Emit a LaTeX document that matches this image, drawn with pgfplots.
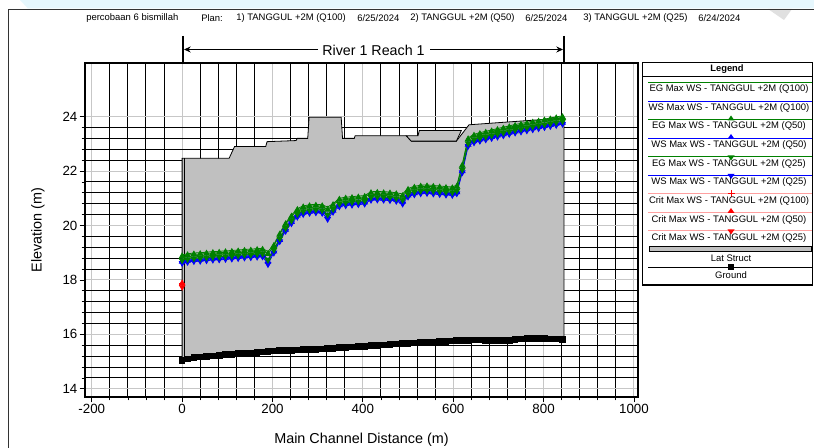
\documentclass[border=0pt]{standalone}
\usepackage{pgfplots}
\pgfplotsset{compat=1.18}
\usepackage{pgfplotstable}
\usepackage{fontspec}
\setmainfont{Liberation Sans}
\usetikzlibrary{arrows.meta}
\definecolor{egc}{RGB}{0,128,0}
\definecolor{wsc}{RGB}{0,0,255}
\definecolor{latc}{RGB}{192,192,192}
\definecolor{critl}{RGB}{255,160,160}

\pgfplotstableread{
x ws100 ws50 ws25 eg100 eg50 gr
0 18.72 18.67 18.62 18.92 18.87 15.05
12 18.76 18.71 18.66 18.96 18.91 15.10
26 18.79 18.74 18.69 18.99 18.94 15.14
40 18.80 18.75 18.70 19.00 18.95 15.17
54 18.82 18.77 18.72 19.02 18.97 15.19
68 18.84 18.79 18.74 19.04 18.99 15.21
82 18.85 18.80 18.75 19.05 19.00 15.23
96 18.87 18.82 18.77 19.07 19.02 15.25
110 18.88 18.83 18.78 19.08 19.03 15.27
124 18.90 18.85 18.80 19.10 19.05 15.29
138 18.92 18.87 18.82 19.12 19.07 15.31
152 18.93 18.88 18.83 19.13 19.08 15.32
166 18.95 18.90 18.85 19.15 19.10 15.33
178 18.96 18.91 18.86 19.16 19.11 15.35
190 18.74 18.68 18.58 19.04 18.96 15.38
203 19.10 19.05 19.00 19.30 19.25 15.39
216 19.52 19.47 19.42 19.72 19.67 15.40
229 19.90 19.85 19.80 20.10 20.05 15.41
242 20.18 20.13 20.08 20.38 20.33 15.42
255 20.42 20.37 20.32 20.62 20.57 15.43
268 20.52 20.47 20.42 20.72 20.67 15.44
282 20.56 20.51 20.46 20.76 20.71 15.45
296 20.58 20.53 20.48 20.78 20.73 15.45
310 20.56 20.51 20.46 20.76 20.71 15.46
322 20.40 20.34 20.24 20.68 20.58 15.47
334 20.60 20.55 20.50 20.80 20.75 15.49
348 20.80 20.75 20.70 21.00 20.95 15.52
362 20.84 20.79 20.74 21.04 20.99 15.53
376 20.86 20.81 20.76 21.06 21.01 15.54
390 20.88 20.83 20.78 21.08 21.03 15.55
404 20.90 20.85 20.80 21.10 21.05 15.56
418 21.04 20.99 20.94 21.24 21.19 15.58
432 21.05 21.00 20.95 21.25 21.20 15.59
446 21.04 20.99 20.94 21.24 21.19 15.61
460 21.03 20.98 20.93 21.23 21.18 15.63
474 21.00 20.95 20.90 21.20 21.15 15.65
488 20.94 20.88 20.80 21.16 21.08 15.66
500 21.16 21.11 21.06 21.36 21.31 15.67
514 21.24 21.19 21.14 21.44 21.39 15.68
528 21.28 21.23 21.18 21.48 21.43 15.69
542 21.29 21.24 21.19 21.49 21.44 15.70
556 21.27 21.22 21.17 21.47 21.42 15.72
570 21.25 21.20 21.15 21.45 21.40 15.73
584 21.23 21.18 21.13 21.43 21.38 15.75
598 21.22 21.17 21.12 21.42 21.37 15.76
608 21.28 21.23 21.18 21.48 21.43 15.77
620 22.05 22.00 21.95 22.25 22.20 15.77
633 23.02 22.97 22.92 23.22 23.17 15.78
646 23.15 23.10 23.05 23.35 23.30 15.79
659 23.21 23.16 23.11 23.41 23.36 15.79
672 23.26 23.21 23.16 23.46 23.41 15.78
685 23.31 23.26 23.21 23.51 23.46 15.77
698 23.36 23.31 23.26 23.56 23.51 15.77
711 23.41 23.36 23.31 23.61 23.56 15.77
724 23.46 23.41 23.36 23.66 23.61 15.78
737 23.51 23.46 23.41 23.71 23.66 15.80
750 23.55 23.50 23.45 23.75 23.70 15.83
763 23.59 23.54 23.49 23.79 23.74 15.85
776 23.63 23.58 23.53 23.83 23.78 15.85
789 23.67 23.62 23.57 23.87 23.82 15.84
802 23.71 23.66 23.61 23.91 23.86 15.84
815 23.75 23.70 23.65 23.95 23.90 15.83
828 23.79 23.74 23.69 23.99 23.94 15.83
842 23.83 23.78 23.73 24.03 23.98 15.82
}\prof

\begin{document}
\begin{tikzpicture}
\useasboundingbox (0,0) rectangle (610.5pt,336pt);
\begin{scope}[x=0.75pt,y=-0.75pt,shift={(0pt,336pt)}]
  \fill[white] (0,0) rectangle (814,448);
  \fill[cyan!10] (20,0) -- (814,0) -- (814,8.5) -- (28,8.5) -- cycle;
  \fill[black!12] (768,9) -- (792,9) -- (784,20) -- cycle;
  \draw[line width=0.6pt, black!80] (8,448) -- (8,9) -- (814,9);
\end{scope}

\begin{axis}[
  at={(63.75pt,38.25pt)}, anchor=south west,
  scale only axis, width=414.75pt, height=250.5pt,
  xmin=-215, xmax=1009, ymin=13.7, ymax=25.97,
  xtick={-200,0,200,400,600,800,1000},
  xticklabels={-200,0,200,400,600,800,1000},
  ytick={14,16,18,20,22,24},
  yticklabels={14,16,18,20,22,24},
  minor x tick num=4, minor y tick num=4,
  grid=both,
  major grid style={draw=black!22, line width=0.7pt},
  minor grid style={draw=black, line width=0.75pt},
  tick align=outside, tick pos=left,
  major tick length=4pt, minor tick length=2.5pt,
  every tick/.style={black, line width=0.6pt},
  axis line style={line width=1.4pt},
  ticklabel style={font=\fontsize{10}{12}\selectfont, inner sep=1.5pt},
  xlabel={Main Channel Distance (m)},
  ylabel={Elevation (m)},
  label style={font=\fontsize{10.8}{13}\selectfont},
  xlabel style={at={(axis description cs:0.50,-0.128)}, anchor=center},
  ylabel style={at={(axis description cs:-0.085,0.5)}, anchor=center},
  clip=true,
]
% Lateral structure
\addplot[draw=black, fill=latc, line width=0.6pt] coordinates {
 (0,15.05) (0,22.47) (104,22.47) (116,22.9) (185,22.9) (188,23.08) (252,23.12)
 (255,23.2) (278,23.2) (281,23.98) (352,23.98) (355,23.2) (381,23.2) (383,23.3)
 (496,23.3) (507,23.1) (607,23.1) (635,23.7) (845,23.95) (845,15.82)
 (800,15.84) (754,15.84) (718,15.77) (680,15.77) (614,15.77) (570,15.73)
 (496,15.66) (451,15.62) (407,15.56) (348,15.52) (289,15.45) (244,15.42)
 (185,15.38) (133,15.3) (59,15.2) (6,15.08)} -- cycle;
\addplot[draw=black, fill=latc, line width=0.6pt] coordinates {
 (496,23.3) (522,23.3) (525,23.49) (618,23.49) (607,23.1) (507,23.1)} -- cycle;
\addplot[black, line width=0.6pt] coordinates {(6,15.1) (6,22.47)};
% Ground
\addplot[black, line width=0.8pt, mark=square*, mark size=2.1pt] table[x=x,y=gr]{\prof};
% WS
\addplot[wsc, line width=0.6pt] table[x=x,y=ws100]{\prof};
\addplot[wsc, line width=0.6pt, mark=triangle*, mark size=2.4pt, mark options={fill=wsc}] table[x=x,y=ws50]{\prof};
\addplot[wsc, line width=0.6pt, mark=triangle*, mark size=2.4pt, mark options={fill=wsc, rotate=180}] table[x=x,y=ws25]{\prof};
% EG
\addplot[egc, line width=0.6pt] table[x=x,y=eg100]{\prof};
\addplot[egc, line width=0.6pt, mark=triangle*, mark size=2.4pt, mark options={fill=egc}] table[x=x,y=eg50]{\prof};
\addplot[egc, line width=0.6pt, mark=triangle*, mark size=2.4pt, mark options={fill=egc, rotate=180}] table[x=x,y=ws100]{\prof};
% Crit
\addplot[red, only marks, mark=+, mark size=2.5pt] coordinates {(0,17.86)};
\addplot[red, only marks, mark=triangle*, mark size=2.4pt] coordinates {(0,17.88)};
\addplot[red, only marks, mark=triangle*, mark size=2.4pt, mark options={rotate=180}] coordinates {(0,17.74)};
\end{axis}

\begin{scope}[x=0.75pt,y=-0.75pt,shift={(0pt,336pt)}]
  % header
  \begin{scope}[every node/.style={anchor=west, inner sep=0pt, font=\fontsize{7.1}{8}\selectfont}]
    \node at (86,18) {percobaan 6 bismillah};
    \node at (201,18) {Plan:};
    \node at (236,18) {1) TANGGUL +2M (Q100)};
    \node at (357,18) {6/25/2024};
    \node at (410,18) {2) TANGGUL +2M (Q50)};
    \node at (525,18) {6/25/2024};
    \node at (583,18) {3) TANGGUL +2M (Q25)};
    \node at (698,18) {6/24/2024};
  \end{scope}
  % reach marker
  \draw[line width=0.8pt] (183,36) -- (183,63);
  \draw[line width=0.8pt] (564,36) -- (564,63);
  \draw[line width=0.8pt, -{Stealth[length=5pt,width=4.5pt]}] (318,49.5) -- (184,49.5);
  \draw[line width=0.8pt, -{Stealth[length=5pt,width=4.5pt]}] (430,49.5) -- (563,49.5);
  \node[font=\fontsize{10.7}{12}\selectfont] at (373.5,50) {River 1 Reach 1};
  % legend
  \draw[line width=1.3pt] (642.5,62.5) rectangle (812.5,285);
  \node[font=\fontsize{7}{8}\selectfont\bfseries] at (727,69.5) {Legend};
  \draw[line width=0.6pt] (642.5,76.5) -- (812.5,76.5);
  \begin{scope}[every node/.style={font=\fontsize{7.1}{8}\selectfont, inner sep=0pt}]
    \draw[egc, line width=0.7pt] (648,82.5) -- (812,82.5);
    \node at (729,89.5) {EG Max WS - TANGGUL +2M (Q100)};
    \draw[wsc, line width=0.7pt] (648,101) -- (812,101);
    \node at (729,108) {WS Max WS - TANGGUL +2M (Q100)};
    \draw[egc, line width=0.7pt] (648,119.5) -- (812,119.5);
    \fill[egc] (731,115.5) -- (734.5,120.5) -- (727.5,120.5) -- cycle;
    \node at (729,126.5) {EG Max WS - TANGGUL +2M (Q50)};
    \draw[wsc, line width=0.7pt] (648,138) -- (812,138);
    \fill[wsc] (731,134) -- (734.5,139) -- (727.5,139) -- cycle;
    \node at (729,145.5) {WS Max WS - TANGGUL +2M (Q50)};
    \draw[egc, line width=0.7pt] (648,156.5) -- (812,156.5);
    \fill[egc] (731,160.5) -- (734.5,155.5) -- (727.5,155.5) -- cycle;
    \node at (729,164) {EG Max WS - TANGGUL +2M (Q25)};
    \draw[wsc, line width=0.7pt] (648,175) -- (812,175);
    \fill[wsc] (731,179) -- (734.5,174) -- (727.5,174) -- cycle;
    \node at (729,182.5) {WS Max WS - TANGGUL +2M (Q25)};
    \draw[critl, line width=0.7pt] (648,193.5) -- (812,193.5);
    \draw[red, line width=0.7pt] (731,190) -- (731,197) (727.5,193.5) -- (734.5,193.5);
    \node at (729,201.5) {Crit Max WS - TANGGUL +2M (Q100)};
    \draw[critl, line width=0.7pt] (648,212) -- (812,212);
    \fill[red] (731,208) -- (734.5,213) -- (727.5,213) -- cycle;
    \node at (729,220) {Crit Max WS - TANGGUL +2M (Q50)};
    \draw[critl, line width=0.7pt] (648,230.5) -- (812,230.5);
    \fill[red] (731,234.5) -- (734.5,229.5) -- (727.5,229.5) -- cycle;
    \node at (729,238.5) {Crit Max WS - TANGGUL +2M (Q25)};
    \draw[fill=latc, line width=0.6pt] (649,246.5) rectangle (811,251);
    \node at (731,258) {Lat Struct};
    \draw[black, line width=0.7pt] (648,267) -- (812,267);
    \fill[black] (728,264) rectangle (734,270);
    \node at (731,275) {Ground};
  \end{scope}
\end{scope}
\end{tikzpicture}
\end{document}
